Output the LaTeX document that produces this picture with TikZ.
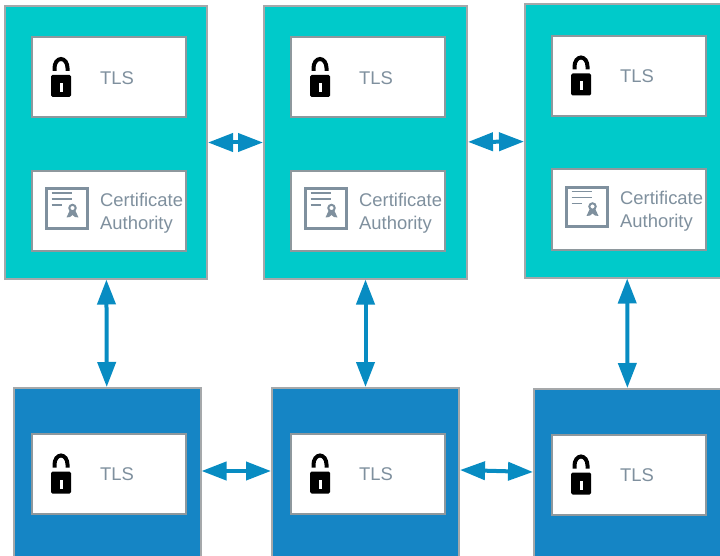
\documentclass[tikz,border=0pt]{standalone}
\usepackage{xcolor}
\usepackage{fontspec}
\setmainfont{Liberation Sans}
\usetikzlibrary{arrows.meta}

\definecolor{tealfill}{HTML}{00CACA}
\definecolor{bluefill}{HTML}{1585C5}
\definecolor{linkblue}{HTML}{088CC2}
\definecolor{slate}{HTML}{7F909E}
\definecolor{edgegray}{HTML}{A5A8AA}
\definecolor{innergray}{HTML}{8E989D}

\tikzset{
  lockicon/.pic={
    \fill[black,rounded corners=1.5pt] (-58,-2.5) rectangle (-38,19.5);
    \fill[white] (-49.5,5.5) rectangle (-46.3,14.5);
    \draw[black,line width=4pt] (-54.5,-6.5) -- (-54.5,-9.5) arc (180:360:6.5 and 9) -- (-41.5,-6.5);
  },
  tlsbox/.pic={
    \node[inner node] (-box) {};
    \pic {lockicon};
    \node[label text] (-tls) at (-9,0.5) {TLS};
  },
  cabox/.pic={
    \node[inner node] (-box) {};
    \draw[slate,line width=3pt] (-62.5,-22) rectangle (-21.5,17.5);
    \draw[slate,line width=1.3pt] (-57.5,-18) -- (-37,-18) (-57.5,-12) -- (-37,-12) (-57.5,-6) -- (-47,-6);
    \fill[slate] (-39.5,0) -- (-42.5,6.5) -- (-39,6) -- (-36.5,4) -- (-34,6) -- (-30.5,6.5) -- (-33.5,0) -- cycle;
    \draw[slate,fill=white,line width=2pt] (-36.5,-3) circle (3.2);
    \node[label text,align=left,text width=90pt] (-ca) at (-9,2) {Certificate\\Authority};
  }
}

\begin{document}
\begin{tikzpicture}[x=1pt,y=-1pt,
    teal node/.style={rectangle,draw=edgegray,line width=2pt,fill=tealfill,minimum height=272pt},
    blue node/.style={rectangle,draw=edgegray,line width=2pt,fill=bluefill,minimum height=170pt,minimum width=187pt},
    inner node/.style={rectangle,draw=innergray,line width=2pt,fill=white,minimum width=154pt,minimum height=80pt},
    label text/.style={anchor=west,inner sep=0pt,text=slate,font=\fontsize{18.4}{23}\selectfont},
    link/.style={<->,>={Triangle[length=25pt,width=18pt]},color=linkblue,line width=4pt}]
    \clip (0,0) rectangle (720,556);

    \node[teal node,minimum width=202pt] (ca1) at (106,142.5) {};
    \node[teal node,minimum width=203pt] (ca2) at (365.5,142.5) {};
    \node[teal node,minimum width=204pt,minimum height=273pt] (ca3) at (627,141) {};
    \node[blue node] (peer1) at (107,473) {};
    \node[blue node] (peer2) at (365.5,473) {};
    \node[blue node] (peer3) at (627.5,474) {};

    \pic (tls1) at (109,77.5) {tlsbox};
    \pic (tls2) at (368,77.5) {tlsbox};
    \pic (tls3) at (629,76) {tlsbox};
    \pic (auth1) at (109,211) {cabox};
    \pic (auth2) at (368,211) {cabox};
    \pic (auth3) at (629,209.5) {cabox};
    \pic (tls4) at (109,474) {tlsbox};
    \pic (tls5) at (368,474) {tlsbox};
    \pic (tls6) at (629,475) {tlsbox};

    \path[link]
    (ca1) edge (ca2)
    (ca2) edge (ca3)
    (ca1) edge (peer1)
    (ca2) edge (peer2)
    (ca3) edge (peer3)
    ([yshift=2pt]peer1.east) edge ([yshift=2pt]peer2.west)
    ([yshift=3pt]peer2.east) edge ([yshift=2pt]peer3.west);
\end{tikzpicture}
\end{document}
